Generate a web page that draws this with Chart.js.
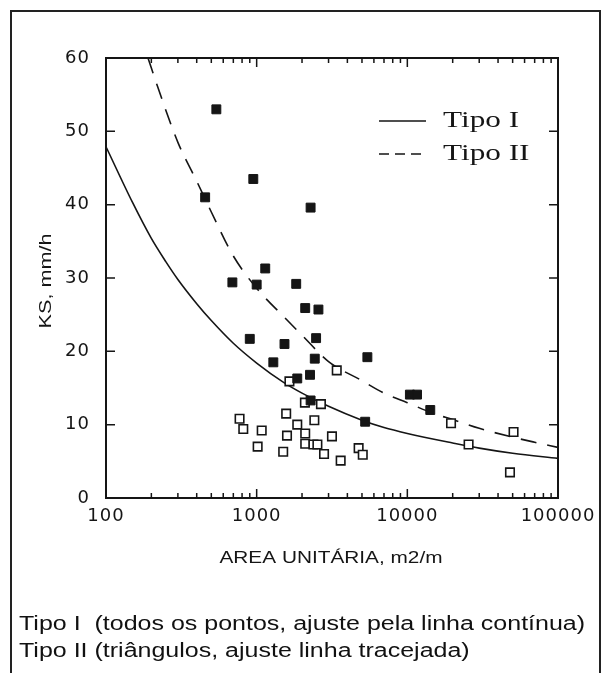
<!DOCTYPE html>
<html>
<head>
<meta charset="utf-8">
<script src="https://cdn.jsdelivr.net/npm/chart.js@4.4.1/dist/chart.umd.min.js"></script>
<style>
  html, body { margin: 0; padding: 0; background: #fff; }
  #wrap { position: relative; width: 609px; height: 673px; overflow: hidden; }
  #frame { position: absolute; left: 10px; top: 10px; width: 591px; height: 700px; border: 2px solid #222; box-sizing: border-box; }
  #chart { position: absolute; left: 0; top: 0; }
  .cap { position: absolute; left: 19px; font: 20px "Liberation Sans", Arial, sans-serif; color: #111;
         white-space: pre; line-height: 27px; transform: scaleX(1.25); transform-origin: 0 0; }
</style>
</head>
<body>
<div id="wrap">
  <div id="frame"></div>
  <canvas id="chart" width="609" height="673"></canvas>
  <div class="cap" style="top:610px">Tipo I  (todos os pontos, ajuste pela linha contínua)</div>
  <div class="cap" style="top:637px">Tipo II (triângulos, ajuste linha tracejada)</div>
</div>
<script>
// Tipo II points (filled "triangles")
const tipo2X = [540, 950, 455, 2280, 1140, 690, 1000, 1830, 2100, 2570, 900, 1530, 2480, 1290, 2430, 5430, 2260, 1860, 2280, 5250, 10400, 11600, 14200];
const tipo2Y = [53.0, 43.5, 41.0, 39.6, 31.3, 29.4, 29.1, 29.2, 25.9, 25.7, 21.7, 21.0, 21.8, 18.5, 19.0, 19.2, 16.8, 16.3, 13.3, 10.4, 14.1, 14.1, 12.0];

// remaining Tipo I points (open squares)
const tipo1X = [3400, 1650, 2090, 2670, 1570, 770, 815, 1080, 1860, 2415, 1590, 2100, 3160, 2100, 2380, 2530, 1015, 1500, 2800, 3610, 4750, 5060, 19500, 50700, 25500, 48000];
const tipo1Y = [17.4, 15.9, 13.0, 12.8, 11.5, 10.8, 9.4, 9.2, 10.0, 10.6, 8.5, 8.8, 8.4, 7.4, 7.3, 7.3, 7.0, 6.3, 6.0, 5.1, 6.8, 5.9, 10.2, 9.0, 7.3, 3.5];

// fitted curves
const fit1X = [100, 150, 200, 250, 300, 400, 500, 700, 1000, 1500, 2000, 3000, 5000, 7000, 10000, 20000, 30000, 50000, 100000];
const fit1Y = [47.9, 40.3, 35.4, 32.2, 29.8, 26.5, 24.2, 21.1, 18.4, 15.8, 14.3, 12.5, 10.6, 9.6, 8.8, 7.5, 6.8, 6.1, 5.4];
const fit2X = [190, 220, 300, 400, 500, 700, 1000, 1500, 2000, 3000, 5000, 7000, 10000, 15000, 20000, 30000, 50000, 70000, 100000];
const fit2Y = [60, 56.1, 48.5, 43.2, 39.0, 33.0, 28.6, 24.8, 22.2, 18.6, 16.0, 14.3, 13.0, 11.5, 10.7, 9.5, 8.3, 7.6, 6.9];

// axis ticks
const xTickLabels = [100, 1000, 10000, 100000];
const yTickLabels = [0, 10, 20, 30, 40, 50, 60];

const pts = (xs, ys) => xs.map((x, i) => ({ x: x, y: ys[i] }));
const ink = '#151515';

// frame, inward ticks, axis titles and legend
const decor = {
  id: 'decor',
  beforeDraw(chart) {
    chart.ctx.letterSpacing = '1px';
  },
  afterDraw(chart) {
    const { ctx, chartArea: a, scales: { x, y } } = chart;
    ctx.save();
    ctx.letterSpacing = '0px';
    ctx.strokeStyle = ink;
    ctx.fillStyle = ink;

    ctx.lineWidth = 2;
    ctx.strokeRect(a.left, a.top, a.right - a.left, a.bottom - a.top);

    ctx.lineWidth = 1.5;
    ctx.beginPath();
    yTickLabels.forEach(v => {
      const p = y.getPixelForValue(v);
      ctx.moveTo(a.left, p); ctx.lineTo(a.left + 9, p);
      ctx.moveTo(a.right, p); ctx.lineTo(a.right - 9, p);
    });
    for (let d = 100; d < 100000; d *= 10) {
      for (let k = 1; k < 10; k++) {
        const p = x.getPixelForValue(d * k);
        const len = k === 1 ? 9 : 5;
        ctx.moveTo(p, a.bottom); ctx.lineTo(p, a.bottom - len);
        ctx.moveTo(p, a.top); ctx.lineTo(p, a.top + len);
      }
    }
    ctx.stroke();

    // x title
    ctx.save();
    ctx.font = '16px "Liberation Sans", Arial, sans-serif';
    ctx.textAlign = 'center';
    ctx.translate((a.left + a.right) / 2 - 1, a.bottom + 65);
    ctx.scale(1.3, 1);
    ctx.fillText('AREA UNITÁRIA, m2/m', 0, 0);
    ctx.restore();

    // y title
    ctx.save();
    ctx.font = '16px "Liberation Sans", Arial, sans-serif';
    ctx.textAlign = 'center';
    ctx.translate(a.left - 55, (a.top + a.bottom) / 2 + 3);
    ctx.rotate(-Math.PI / 2);
    ctx.scale(1.35, 1);
    ctx.fillText('KS, mm/h', 0, 0);
    ctx.restore();

    // legend
    const lx = a.left + 273, ly = a.top + 63;
    ctx.lineWidth = 1.6;
    ctx.beginPath();
    ctx.moveTo(lx, ly); ctx.lineTo(lx + 47, ly);
    ctx.stroke();
    ctx.setLineDash([10, 6]);
    ctx.beginPath();
    ctx.moveTo(lx, ly + 33); ctx.lineTo(lx + 47, ly + 33);
    ctx.stroke();
    ctx.setLineDash([]);
    ctx.font = '24px "Liberation Serif", "Times New Roman", serif';
    ctx.textAlign = 'left';
    [['Tipo I', ly + 6], ['Tipo II', ly + 39]].forEach(([t, by]) => {
      ctx.save();
      ctx.translate(lx + 64, by);
      ctx.scale(1.3, 1);
      ctx.fillText(t, 0, 0);
      ctx.restore();
    });
    ctx.restore();
  }
};

const tickFont = { family: '"DejaVu Sans", sans-serif', size: 18 };

new Chart(document.getElementById('chart'), {
  type: 'scatter',
  data: {
    datasets: [
      { label: 'Tipo II', data: pts(tipo2X, tipo2Y), pointStyle: 'rect', pointRadius: 6.3,
        backgroundColor: ink, borderColor: ink, borderWidth: 1, order: 1 },
      { label: 'Tipo I', data: pts(tipo1X, tipo1Y), pointStyle: 'rect', pointRadius: 6,
        backgroundColor: '#fff', borderColor: ink, borderWidth: 1.6, order: 2 },
      { label: 'Ajuste Tipo I', data: pts(fit1X, fit1Y), showLine: true, pointRadius: 0, fill: false,
        borderColor: ink, borderWidth: 1.6, cubicInterpolationMode: 'monotone', order: 3 },
      { label: 'Ajuste Tipo II', data: pts(fit2X, fit2Y), showLine: true, pointRadius: 0, fill: false,
        borderColor: ink, borderWidth: 1.6, borderDash: [16, 11], cubicInterpolationMode: 'monotone', order: 4 }
    ]
  },
  options: {
    responsive: false,
    animation: false,
    events: [],
    layout: { padding: { left: 35, top: 58, right: 51, bottom: 105 } },
    plugins: { legend: { display: false }, tooltip: { enabled: false } },
    scales: {
      x: {
        type: 'logarithmic', min: 100, max: 100000,
        afterFit: s => { s.height = 70; },
        afterBuildTicks: s => { s.ticks = xTickLabels.map(v => ({ value: v })); },
        ticks: { callback: v => String(v), font: tickFont, color: ink, padding: 8, maxRotation: 0, autoSkip: false },
        grid: { display: false, drawTicks: false },
        border: { display: false }
      },
      y: {
        min: 0, max: 60,
        afterFit: s => { s.width = 71; },
        afterBuildTicks: s => { s.ticks = yTickLabels.map(v => ({ value: v })); },
        ticks: { font: tickFont, color: ink, padding: 16 },
        grid: { display: false, drawTicks: false },
        border: { display: false }
      }
    }
  },
  plugins: [decor]
});
</script>
</body>
</html>
